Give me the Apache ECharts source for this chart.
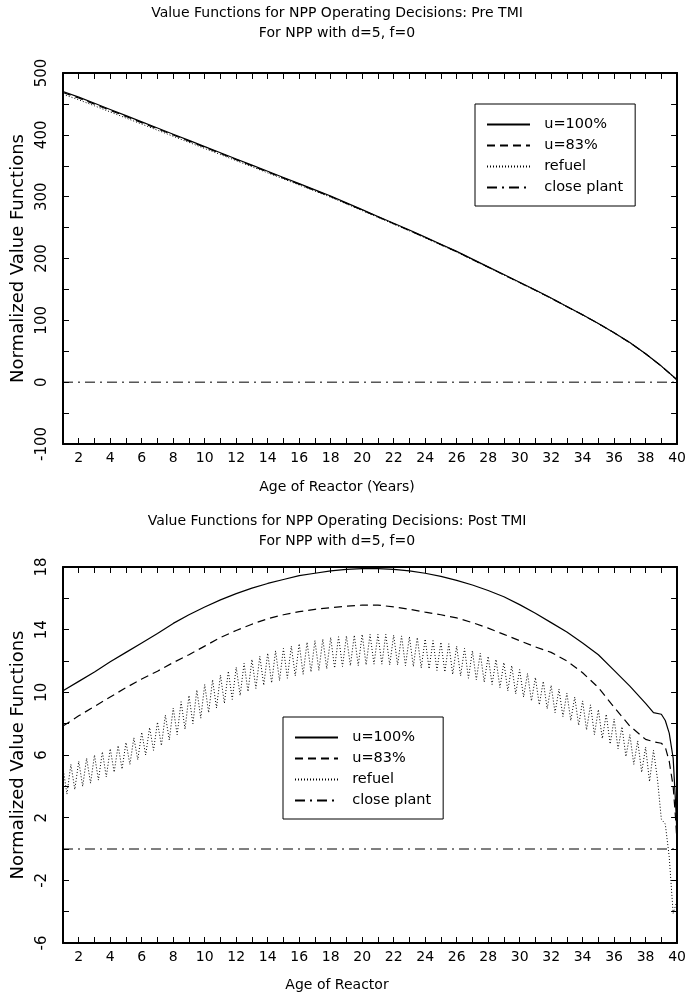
<!DOCTYPE html>
<html><head><meta charset="utf-8">
<script src="https://cdn.jsdelivr.net/npm/echarts@6/dist/echarts.min.js"></script>
<style>html,body{margin:0;padding:0;background:#fff}#c{width:689px;height:996px}</style>
</head><body><div id="c"></div>
<script>
// ---------- Pre TMI (top chart) ----------
const topAges = [1,2,3,4,5,6,7,8,9,10,11,12,13,14,15,16,17,18,19,20,21,22,23,24,25,26,27,28,29,30,31,32,33,34,35,36,37,38,39,40];
const topU100 = [470,461,451,441,431,421,411,401,391,381,371,361,351,341,331,321,311,301,290,279,268,257,246,234.5,223,211.5,199,186.5,174,161.5,149,136,122.5,109,95,80,64,46,26,4];
const topU83 = [468.5,459.5,449.6,439.6,429.7,419.7,409.8,399.8,389.9,379.9,370,360,350,340,330,320.1,310.1,300.1,289.2,278.2,267.3,256.3,245.3,233.9,222.4,211,198.5,186,173.6,161.1,148.6,135.7,122.2,108.8,94.8,79.8,63.9,45.9,25.9,3.5];
const topRefuel = [465.5,456.7,446.9,437,427.2,417.3,407.5,397.6,387.8,377.9,368.1,358.2,348.4,338.5,328.7,318.9,309,299.1,288.3,277.4,266.5,255.6,244.7,233.3,221.9,210.5,198,185.6,173.2,160.7,148.3,135.4,122,108.6,94.6,79.6,63.7,45.7,25.8,3.4];
const closeAges = [1,40];
const closeVals = [0,0];

// ---------- Post TMI (bottom chart) ----------
const botAges = [1,2,3,4,5,6,7,8,9,10,11,12,13,14,15,16,17,18,19,20,21,22,23,24,25,26,27,28,29,30,31,32,33,34,35,36,37,38,38.5,39,39.25,39.5,39.75,39.9,40];
const botU100 = [10.1,10.7,11.3,11.95,12.55,13.15,13.75,14.4,14.95,15.45,15.9,16.3,16.65,16.95,17.2,17.45,17.6,17.75,17.85,17.9,17.9,17.85,17.75,17.6,17.4,17.15,16.85,16.5,16.1,15.6,15.05,14.45,13.85,13.15,12.4,11.4,10.4,9.3,8.7,8.6,8.2,7.4,5.8,3.0,0.8];
const botU83 = [7.85,8.5,9.1,9.7,10.3,10.85,11.35,11.9,12.4,12.95,13.5,13.95,14.35,14.7,14.95,15.15,15.3,15.4,15.5,15.57,15.57,15.45,15.3,15.12,14.95,14.75,14.45,14.1,13.7,13.3,12.9,12.55,12.0,11.25,10.3,9.05,7.85,7.0,6.85,6.75,6.5,5.6,4.0,2.0,0.3];
// refuel sampled every quarter year from age 1 to 40
const refuelStart = 1, refuelStep = 0.25;
const botRefuel = [
 5.2,3.5,5.4,3.8, 5.6,4.0,5.8,4.2, 6.0,4.4,6.2,4.6, 6.4,4.9,6.6,5.1,
 6.8,5.4,7.1,5.7, 7.45,6.0,7.75,6.3, 8.1,6.6,8.55,6.95, 9.0,7.3,9.4,7.65,
 9.8,8.0,10.15,8.35, 10.5,8.7,10.8,9.0, 11.1,9.3,11.35,9.55, 11.6,9.8,11.85,10.05,
 12.1,10.25,12.3,10.45, 12.5,10.6,12.65,10.75, 12.8,10.9,12.95,11.05, 13.1,11.15,13.2,11.3,
 13.3,11.4,13.4,11.5, 13.5,11.55,13.55,11.65, 13.6,11.7,13.65,11.7, 13.7,11.75,13.7,11.8,
 13.7,11.8,13.7,11.75, 13.65,11.75,13.6,11.7, 13.55,11.65,13.5,11.55, 13.4,11.5,13.3,11.4,
 13.2,11.3,13.1,11.15, 12.95,11.05,12.8,10.9, 12.65,10.8,12.5,10.65, 12.3,10.5,12.1,10.3,
 11.9,10.1,11.7,9.9, 11.45,9.7,11.2,9.45, 10.95,9.2,10.7,8.95, 10.45,8.7,10.2,8.45,
 9.95,8.2,9.7,7.9, 9.45,7.6,9.2,7.3, 8.9,7.05,8.6,6.7, 8.3,6.4,7.8,5.9,
 7.3,5.4,6.9,4.9, 6.5,4.3,6.3,4.5, 1.9,1.6,-0.5,-4.1, -3.3
];
const seriesNames = ['u=100%','u=83%','refuel','close plant'];
const titlesTop = ['Value Functions for NPP Operating Decisions: Pre TMI','For NPP with d=5, f=0'];
const titlesBot = ['Value Functions for NPP Operating Decisions: Post TMI','For NPP with d=5, f=0'];
const xNameTop = 'Age of Reactor (Years)';
const xNameBot = 'Age of Reactor';
const yName = 'Normalized Value Functions';

const FONT = 'DejaVu Sans';
const pairs = (xs, ys) => ys.map((v, i) => [xs[i], v]);
const refuelAgesBot = botRefuel.map((_, i) => refuelStart + i * refuelStep);

const styles = [
  {type: 'solid', width: 1.2},
  {type: [8, 5], width: 1.2},
  {type: [1, 2], width: 1},
  {type: [10, 5, 2, 5], width: 1}
];

function xAx(grid, pos, labels) {
  return {
    gridIndex: grid, type: 'value', position: pos, min: 1, max: 40, interval: 1,
    axisLine: {show: true, onZero: false, lineStyle: {color: '#000', width: 2}},
    axisTick: {show: true, inside: true, length: 6, lineStyle: {color: '#000', width: 1}},
    axisLabel: {show: labels, margin: 7, fontFamily: FONT, fontSize: 14, color: '#000',
      formatter: v => (v % 2 === 0 ? String(v) : '')},
    splitLine: {show: false}
  };
}
function yAx(grid, pos, labels, min, max, step, labStep, name) {
  return {
    gridIndex: grid, type: 'value', position: pos, min: min, max: max, interval: step,
    name: name || '', nameLocation: 'middle', nameGap: 34,
    nameTextStyle: {fontFamily: FONT, fontSize: 18, color: '#000'},
    axisLine: {show: true, onZero: false, lineStyle: {color: '#000', width: 2}},
    axisTick: {show: true, inside: true, length: 6, lineStyle: {color: '#000', width: 1}},
    axisLabel: {show: labels, rotate: 90, margin: 13, fontFamily: FONT, fontSize: 15, color: '#000',
      formatter: v => (((v - min) % labStep) === 0 ? String(v) : '')},
    splitLine: {show: false}
  };
}
function mkSeries(xi, yi, sets) {
  return sets.map((d, k) => ({
    name: seriesNames[k], type: 'line', xAxisIndex: xi, yAxisIndex: yi,
    data: d, symbol: 'none', showSymbol: false, smooth: false, clip: true,
    lineStyle: Object.assign({color: '#000'}, styles[k]),
    itemStyle: {color: '#000'}
  }));
}
function txt(t, x, y, size) {
  return {type: 'text', x: x, y: y, silent: true,
    style: {text: t, fill: '#000', font: size + 'px "' + FONT + '"', fontFamily: FONT, fontSize: size,
      textAlign: 'center', textVerticalAlign: 'middle', verticalAlign: 'middle'}};
}
function legend(left, top) {
  return {
    show: true, orient: 'vertical', left: left, top: top, data: seriesNames,
    backgroundColor: '#fff', borderColor: '#000', borderWidth: 1,
    padding: [13, 12, 11, 11], itemWidth: 43, itemHeight: 14, itemGap: 6,
    selectedMode: false, formatter: n => '  ' + n,
    itemStyle: {opacity: 0},
    textStyle: {fontFamily: FONT, fontSize: 14.5, color: '#000'}
  };
}

const chart = echarts.init(document.getElementById('c'), null, {renderer: 'canvas'});
chart.setOption({
  animation: false,
  backgroundColor: '#fff',
  grid: [
    {left: 63, top: 73, width: 616, height: 371, containLabel: false},
    {left: 63, top: 567, width: 616, height: 376, containLabel: false}
  ],
  xAxis: [xAx(0, 'bottom', true), xAx(0, 'top', false), xAx(1, 'bottom', true), xAx(1, 'top', false)],
  yAxis: [
    yAx(0, 'left', true, -100, 500, 50, 100, yName), yAx(0, 'right', false, -100, 500, 50, 100),
    yAx(1, 'left', true, -6, 18, 2, 4, yName), yAx(1, 'right', false, -6, 18, 2, 4)
  ],
  legend: [legend(475, 104), legend(283, 717)],
  graphic: [
    txt(titlesTop[0], 337, 13, 14), txt(titlesTop[1], 337, 33, 14), txt(xNameTop, 337, 487, 14),
    txt(titlesBot[0], 337, 521, 14), txt(titlesBot[1], 337, 541, 14), txt(xNameBot, 337, 985, 14)
  ],
  series: [
    ...mkSeries(0, 0, [pairs(topAges, topU100), pairs(topAges, topU83), pairs(topAges, topRefuel), pairs(closeAges, closeVals)]),
    ...mkSeries(2, 2, [pairs(botAges, botU100), pairs(botAges, botU83), pairs(refuelAgesBot, botRefuel), pairs(closeAges, closeVals)])
  ]
});
</script>
</body></html>
